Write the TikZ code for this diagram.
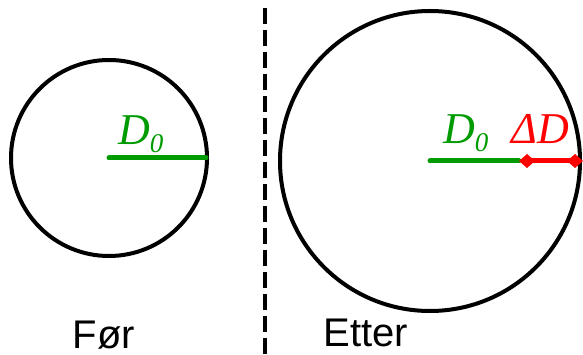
\documentclass[tikz,border=0pt]{standalone}
\usepackage{fontspec}
\setmainfont{Liberation Serif}
\newfontfamily\labelfont{Liberation Sans}
\usetikzlibrary{arrows.meta}
\definecolor{radgreen}{RGB}{0,155,0}
\definecolor{radred}{RGB}{255,0,0}
\newcommand{\subzero}{\raisebox{-8pt}{\fontsize{27}{27}\selectfont 0}}
\tikzset{
  ring/.style={draw, circle, line width=4pt, minimum size=#1, inner sep=0pt},
  radius/.style={line width=5pt, radgreen, line cap=round},
  growth/.style={line width=5pt, radred, {Diamond[length=16pt,width=14pt]}-{Diamond[length=16pt,width=14pt]}},
  divider/.style={line width=4.5pt, dash pattern=on 16pt off 6pt},
  sym/.style={font=\fontsize{44}{44}\selectfont\itshape, inner sep=0pt, anchor=base west},
  caption/.style={font=\labelfont\fontsize{40}{40}\selectfont, inner sep=0pt, anchor=base}
}
\begin{document}
\begin{tikzpicture}[x=1pt,y=-1pt]
\useasboundingbox (0,0) rectangle (583,355);
% before
\node[ring=196pt] (before) at (109,158) {};
\draw[radius] (before.center) -- ([xshift=-3pt]before.east);
\node[sym, radgreen] (d0a) at (118,145) {D\subzero};
\node[caption] (fore) at (104,348) {Før};
% divider
\coordinate (top) at (265,8);
\coordinate (bottom) at (265,360);
\draw[divider] (top) -- (bottom);
% after
\node[ring=300pt] (after) at (430,161) {};
\coordinate (grow) at (519,161);
\draw[radius] (after.center) -- (grow);
\draw[growth] (grow) -- ([xshift=1pt]after.east);
\node[sym, radgreen] (d0b) at (443,144) {D\subzero};
\node[sym, radred] (dd) at (511,144) {ΔD};
\node[caption] (etter) at (366,346) {Etter};
\end{tikzpicture}
\end{document}
